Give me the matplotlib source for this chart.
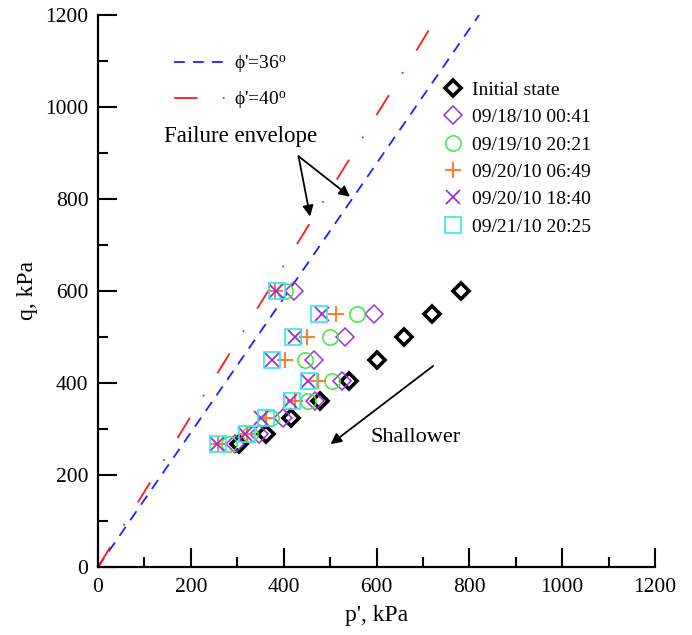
import matplotlib
matplotlib.use("Agg")
import matplotlib.pyplot as plt

plt.rcParams['font.family'] = ['Liberation Serif', 'DejaVu Serif']
plt.rcParams['mathtext.fontset'] = 'custom'
plt.rcParams['mathtext.rm'] = 'Liberation Serif'
plt.rcParams['mathtext.it'] = 'Liberation Serif:italic'

# ---------------- data ----------------
q_rows = [600, 550, 500, 450, 405, 360, 325, 290, 268]
p_initial = [782, 720, 660, 600, 540, 478, 415, 362, 304]
p_0918 = [423, 595, 532, 466, 526, 468, 398, 347, 295]
p_0919 = [403, 557, 500, 446, 504, 452, 372, 328, 283]
p_0920a = [381, 513, 451, 403, 475, 424, 363, 320, 258]
p_0920b = [383, 482, 424, 374, 453, 414, 352, 316, 256]
p_0921 = [385, 476, 421, 374, 455, 417, 363, 320, 259]

series_labels = ["Initial state", "09/18/10 00:41", "09/19/10 20:21",
                 "09/20/10 06:49", "09/20/10 18:40", "09/21/10 20:25"]

# failure envelopes: end points (p, q)
env36_p = [0, 821]
env36_q = [0, 1200]
env40_p = [0, 733]
env40_q = [0, 1200]
env_labels = ["\u03d5'=36$^{\\rm o}$", "\u03d5'=40$^{\\rm o}$"]

xticks = [0, 200, 400, 600, 800, 1000, 1200]
yticks = [0, 200, 400, 600, 800, 1000, 1200]

# ---------------- figure ----------------
fig = plt.figure(figsize=(6.92, 6.35), dpi=100)
ax = fig.add_axes([98/692, 1-567/635, 557/692, 552/635])

l36, = ax.plot(env36_p, env36_q, color='#1f1fff', lw=1.3,
               linestyle=(0, (6, 4.5)))
l40, = ax.plot(env40_p, env40_q, color='#ff1a1a', lw=1.3,
               linestyle=(0, (13, 14, 1, 14)))

purple = '#9b30d8'
h0, = ax.plot(p_initial, q_rows, 'D', ms=8, mfc='none', mec='black', mew=2.6,
              ls='none')
h1, = ax.plot(p_0918, q_rows, 'D', ms=8.8, mfc='none', mec=purple, mew=1.1,
              ls='none')
h2, = ax.plot(p_0919, q_rows, 'o', ms=11, mfc='none', mec='#3ee83e', mew=1.1,
              ls='none')
h3, = ax.plot(p_0920a, q_rows, '+', ms=11, mec='#ff7a2a', mew=1.4,
              ls='none')
h4, = ax.plot(p_0920b, q_rows, 'x', ms=10, mec=purple, mew=1.3,
              ls='none')
h5, = ax.plot(p_0921, q_rows, 's', ms=11, mfc='none', mec='#33e8e8', mew=1.2,
              ls='none')

ax.set_xlim(0, 1200)
ax.set_ylim(0, 1200)
ax.set_xticks(xticks)
ax.set_yticks(yticks)
ax.set_xticks(range(100, 1200, 200), minor=True)
ax.set_yticks(range(100, 1200, 200), minor=True)
ax.tick_params(which='major', direction='in', length=13.5, width=1.5,
               labelsize=15.5)
ax.tick_params(axis='x', which='major', pad=8)
ax.tick_params(axis='y', which='major', pad=7)
ax.tick_params(which='minor', direction='in', length=7, width=1.5)
ax.tick_params(top=False, right=False)
for s in ['top', 'right']:
    ax.spines[s].set_visible(False)
for s in ['left', 'bottom']:
    ax.spines[s].set_linewidth(1.6)

ax.set_xlabel("p', kPa", fontsize=17, labelpad=6)
ax.set_ylabel("q, kPa", fontsize=17, labelpad=5)

leg1 = ax.legend([l36, l40], env_labels, loc='upper left',
                 bbox_to_anchor=(0.123, 0.945), frameon=False, fontsize=14,
                 handlelength=2.6, handletextpad=0.45, labelspacing=0.75,
                 borderaxespad=0)
ax.add_artist(leg1)
ax.legend([h0, h1, h2, h3, h4, h5], series_labels, loc='upper left',
          bbox_to_anchor=(0.603, 0.894), frameon=False, fontsize=14,
          handlelength=1.2, handletextpad=0.35, labelspacing=0.5,
          borderaxespad=0)

# annotations
arrow_kw = dict(arrowstyle='-|>', color='black', lw=1.3,
                mutation_scale=16, shrinkA=0, shrinkB=0)
ax.annotate("Failure envelope", xy=(457, 762), xytext=(308, 935),
            fontsize=16.5, ha='center', va='center')
ax.annotate("", xy=(457, 762), xytext=(432, 893), arrowprops=arrow_kw)
ax.annotate("", xy=(543, 805), xytext=(432, 893), arrowprops=arrow_kw)
ax.annotate("", xy=(501, 267), xytext=(722, 437), arrowprops=arrow_kw)
ax.text(586, 281, "Shallower", fontsize=16, ha='left', va='center')

fig.savefig("out.png", dpi=100)
